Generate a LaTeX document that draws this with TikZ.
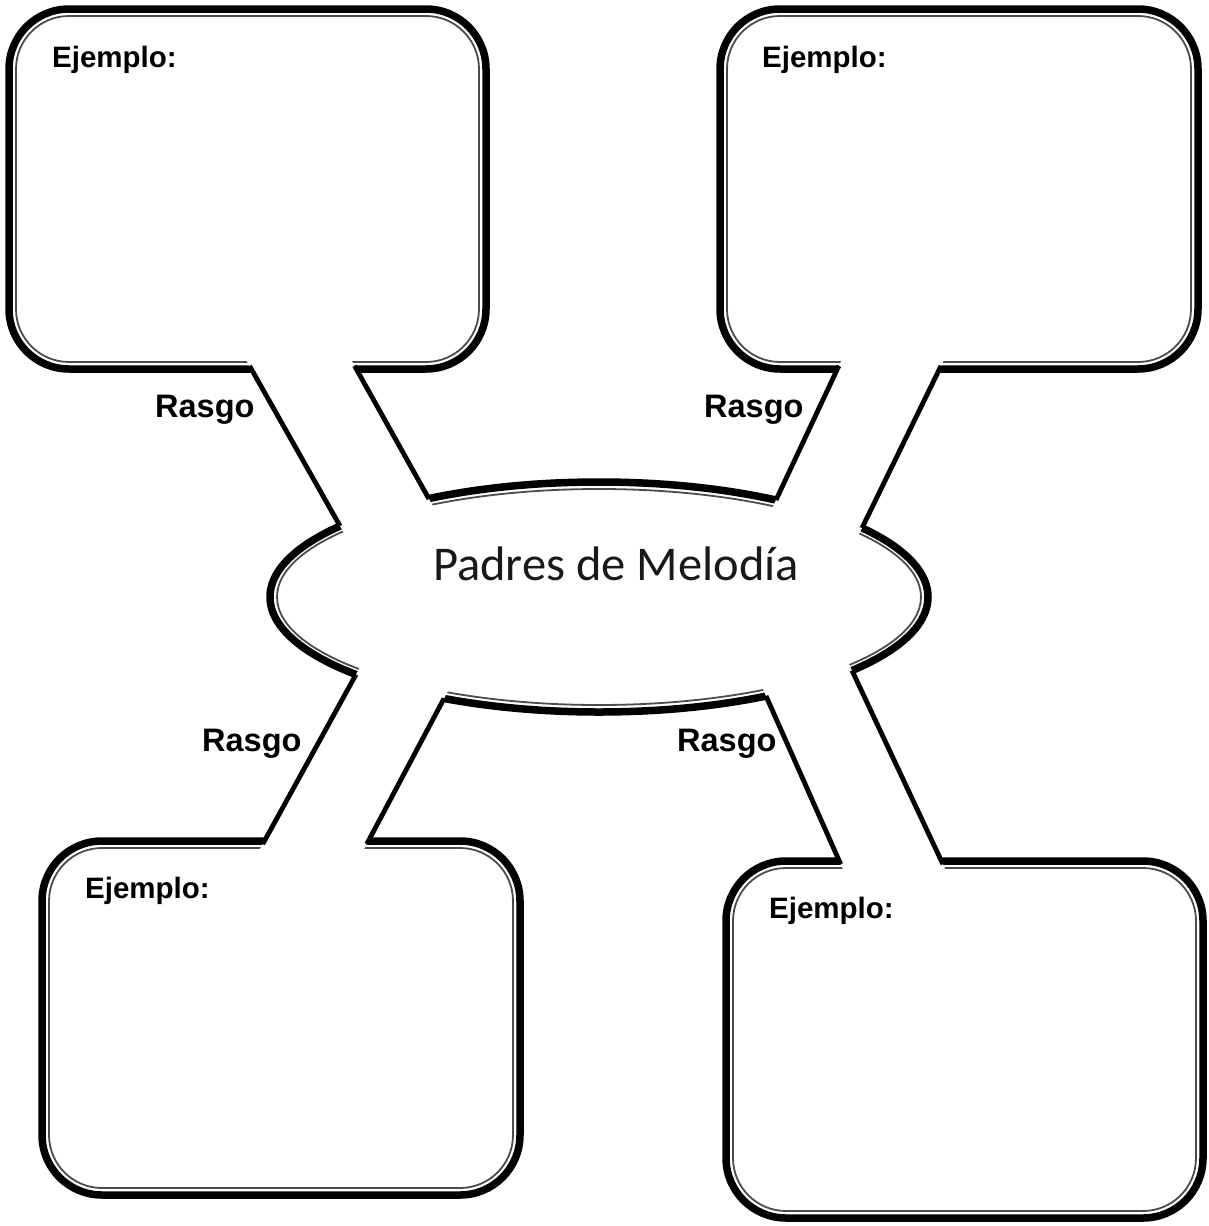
\documentclass[tikz,border=0pt]{standalone}
\usepackage{fontspec}
\usetikzlibrary{calc}
\newfontfamily\arialfont{Liberation Sans}
\newfontfamily\carlfont{Carlito}
\tikzset{
  outerline/.style={line width=7.5pt, draw=black},
  innerline/.style={line width=1.8pt, draw=black!70},
  armline/.style={line width=4.8pt, draw=black},
  ejlabel/.style={font=\arialfont\bfseries\fontsize{29.5}{32}\selectfont, anchor=base west, inner sep=0pt, text=black},
  rglabel/.style={font=\arialfont\bfseries\fontsize{32.5}{35}\selectfont, anchor=base west, inner sep=0pt, text=black},
  titlelabel/.style={font=\carlfont\fontsize{48.5}{52}\selectfont, anchor=base west, inner sep=0pt, text=black!90}
}
\begin{document}
\begin{tikzpicture}[x=1pt,y=-1pt]
\useasboundingbox (0,0) rectangle (1209,1226);
\fill[white] (0,0) rectangle (1209,1226);
% boxes
\foreach \a/\b/\c/\d in {9/9/486/369, 720/9/1198/369, 42/841/520/1195, 726/861/1203/1218} {
  \draw[outerline, rounded corners=60pt] (\a,\b) rectangle (\c,\d);
  \draw[innerline, rounded corners=53pt] (\a+7,\b+7) rectangle (\c-7,\d-7);
}
% ellipse
\coordinate (ctr) at (599,597);
\draw[outerline] (ctr) ellipse [x radius=329, y radius=115];
\draw[innerline] (ctr) ellipse [x radius=322, y radius=108];
% arm end points
\coordinate (tlLb) at (251.3,369); \coordinate (tlLe) at (340,526);
\coordinate (tlRb) at (356.3,369); \coordinate (tlRe) at (429,499);
\coordinate (trLb) at (837.4,369); \coordinate (trLe) at (776,500);
\coordinate (trRb) at (939.5,369); \coordinate (trRe) at (862,528);
\coordinate (blLb) at (264.4,841); \coordinate (blLe) at (356,674.5);
\coordinate (blRb) at (368.4,841); \coordinate (blRe) at (444,698.5);
\coordinate (brLb) at (839.3,861); \coordinate (brLe) at (766,696);
\coordinate (brRb) at (941.4,861); \coordinate (brRe) at (852,670.5);
\foreach \p in {tl,tr,bl,br} {
  \fill[white] ($(\p Lb)!-18pt!(\p Le)$) -- ($(\p Le)!-18pt!(\p Lb)$) -- ($(\p Re)!-18pt!(\p Rb)$) -- ($(\p Rb)!-18pt!(\p Re)$) -- cycle;
  \draw[armline] ($(\p Lb)!-3.5pt!(\p Le)$) -- (\p Le);
  \draw[armline] ($(\p Rb)!-3.5pt!(\p Re)$) -- (\p Re);
}
% texts
\node[ejlabel] (ej1) at (52,67) {Ejemplo:};
\node[ejlabel] (ej2) at (762,67) {Ejemplo:};
\node[ejlabel] (ej3) at (85,898) {Ejemplo:};
\node[ejlabel] (ej4) at (769,918) {Ejemplo:};
\node[rglabel] (rg1) at (155,417) {Rasgo};
\node[rglabel] (rg2) at (704,417) {Rasgo};
\node[rglabel] (rg3) at (202,751) {Rasgo};
\node[rglabel] (rg4) at (677,751) {Rasgo};
\node[titlelabel] (title) at (433,580) {Padres de Melodía};
\end{tikzpicture}
\end{document}
